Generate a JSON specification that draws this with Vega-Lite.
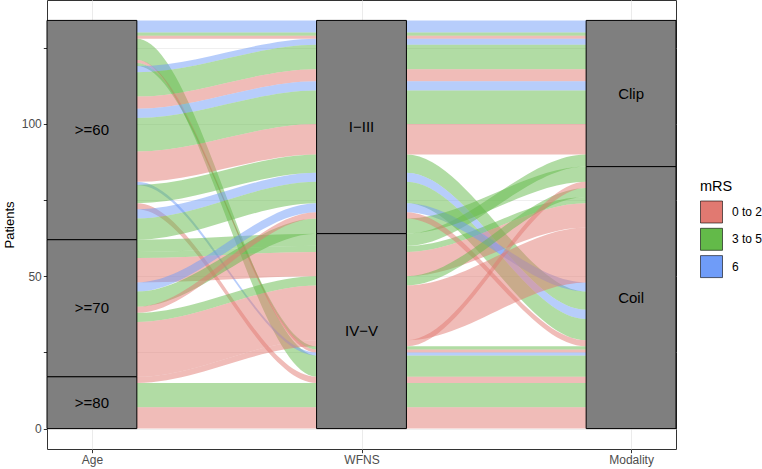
{
  "$schema": "https://vega.github.io/schema/vega-lite/v6.json",
  "width": 629,
  "height": 449,
  "autosize": {"type": "none"},
  "padding": {"left": 47, "top": 0, "right": 86, "bottom": 20},
  "background": "white",
  "config": {
    "font": "Liberation Sans",
    "view": {"stroke": "#333333", "strokeWidth": 1}
  },
  "data": {
    "values": [
      {"age": ">=60", "wfns": "I−III", "mod": "Clip", "mrs": "6", "n": 4, "rA": 1, "rW": 1, "rM": 1},
      {"age": ">=60", "wfns": "I−III", "mod": "Clip", "mrs": "3 to 5", "n": 1, "rA": 2, "rW": 2, "rM": 2},
      {"age": ">=60", "wfns": "I−III", "mod": "Clip", "mrs": "0 to 2", "n": 1, "rA": 3, "rW": 3, "rM": 3},
      {"age": ">=60", "wfns": "IV−V", "mod": "Coil", "mrs": "3 to 5", "n": 7, "rA": 4, "rW": 25, "rM": 25},
      {"age": ">=60", "wfns": "IV−V", "mod": "Coil", "mrs": "0 to 2", "n": 1, "rA": 5, "rW": 23, "rM": 23},
      {"age": ">=60", "wfns": "IV−V", "mod": "Coil", "mrs": "3 to 5", "n": 1, "rA": 6, "rW": 22, "rM": 22},
      {"age": ">=60", "wfns": "I−III", "mod": "Clip", "mrs": "6", "n": 2, "rA": 7, "rW": 4, "rM": 4},
      {"age": ">=60", "wfns": "I−III", "mod": "Clip", "mrs": "3 to 5", "n": 8, "rA": 8, "rW": 5, "rM": 5},
      {"age": ">=60", "wfns": "I−III", "mod": "Clip", "mrs": "0 to 2", "n": 4, "rA": 9, "rW": 6, "rM": 6},
      {"age": ">=60", "wfns": "I−III", "mod": "Clip", "mrs": "6", "n": 3, "rA": 10, "rW": 7, "rM": 7},
      {"age": ">=60", "wfns": "I−III", "mod": "Clip", "mrs": "3 to 5", "n": 11, "rA": 11, "rW": 8, "rM": 8},
      {"age": ">=60", "wfns": "I−III", "mod": "Clip", "mrs": "0 to 2", "n": 10, "rA": 12, "rW": 9, "rM": 9},
      {"age": ">=60", "wfns": "IV−V", "mod": "Coil", "mrs": "6", "n": 1, "rA": 13, "rW": 24, "rM": 24},
      {"age": ">=60", "wfns": "I−III", "mod": "Coil", "mrs": "3 to 5", "n": 6, "rA": 14, "rW": 10, "rM": 18},
      {"age": ">=60", "wfns": "IV−V", "mod": "Coil", "mrs": "0 to 2", "n": 2, "rA": 15, "rW": 26, "rM": 26},
      {"age": ">=60", "wfns": "I−III", "mod": "Coil", "mrs": "6", "n": 3, "rA": 16, "rW": 11, "rM": 19},
      {"age": ">=60", "wfns": "I−III", "mod": "Coil", "mrs": "3 to 5", "n": 7, "rA": 17, "rW": 12, "rM": 20},
      {"age": ">=70", "wfns": "IV−V", "mod": "Clip", "mrs": "3 to 5", "n": 4, "rA": 18, "rW": 16, "rM": 10},
      {"age": ">=70", "wfns": "IV−V", "mod": "Coil", "mrs": "3 to 5", "n": 2, "rA": 19, "rW": 17, "rM": 14},
      {"age": ">=70", "wfns": "IV−V", "mod": "Coil", "mrs": "0 to 2", "n": 8, "rA": 20, "rW": 18, "rM": 15},
      {"age": ">=70", "wfns": "I−III", "mod": "Coil", "mrs": "6", "n": 3, "rA": 21, "rW": 13, "rM": 17},
      {"age": ">=70", "wfns": "I−III", "mod": "Coil", "mrs": "3 to 5", "n": 5, "rA": 22, "rW": 15, "rM": 11},
      {"age": ">=70", "wfns": "I−III", "mod": "Coil", "mrs": "0 to 2", "n": 2, "rA": 23, "rW": 14, "rM": 21},
      {"age": ">=70", "wfns": "IV−V", "mod": "Coil", "mrs": "3 to 5", "n": 3, "rA": 24, "rW": 19, "rM": 13},
      {"age": ">=70", "wfns": "IV−V", "mod": "Coil", "mrs": "0 to 2", "n": 18, "rA": 25, "rW": 20, "rM": 16},
      {"age": ">=80", "wfns": "IV−V", "mod": "Coil", "mrs": "0 to 2", "n": 2, "rA": 26, "rW": 21, "rM": 12},
      {"age": ">=80", "wfns": "IV−V", "mod": "Coil", "mrs": "3 to 5", "n": 8, "rA": 27, "rW": 27, "rM": 27},
      {"age": ">=80", "wfns": "IV−V", "mod": "Coil", "mrs": "0 to 2", "n": 7, "rA": 28, "rW": 28, "rM": 28}
    ]
  },
  "layer": [
    {
      "transform": [
        {"stack": "n", "groupby": [], "sort": [{"field": "rA", "order": "descending"}], "as": ["a0", "a1"]},
        {"stack": "n", "groupby": [], "sort": [{"field": "rW", "order": "descending"}], "as": ["b0", "b1"]},
        {"stack": "n", "groupby": [], "sort": [{"field": "rM", "order": "descending"}], "as": ["c0", "c1"]},
        {"fold": ["a0", "b0", "c0"], "as": ["kb", "yb"]},
        {"fold": ["a1", "b1", "c1"], "as": ["kt", "yt"]},
        {"filter": "(datum.kb == 'a0' && datum.kt == 'a1') || (datum.kb == 'b0' && datum.kt == 'b1') || (datum.kb == 'c0' && datum.kt == 'c1')"},
        {"fold": ["kb", "kt"], "as": ["edge", "slot"]}
      ],
      "mark": {"type": "area", "interpolate": "monotone", "opacity": 0.5},
      "encoding": {
        "x": {
          "field": "slot", "type": "ordinal",
          "scale": {"type": "point", "padding": 0, "domain": ["a0", "Age", "a1", "g1", "g2", "g3", "b0", "WFNS", "b1", "g4", "g5", "g6", "c0", "Modality", "c1"]},
          "axis": {"values": ["Age", "WFNS", "Modality"], "title": null, "domain": false, "grid": true, "gridColor": "#EBEBEB", "gridWidth": 1.07, "tickColor": "#333333", "tickSize": 3.7, "tickWidth": 1, "labelFontSize": 12, "labelColor": "#4D4D4D", "labelPadding": 2, "labelAngle": 0}
        },
        "y": {
          "field": "yb", "type": "quantitative", "stack": null,
          "scale": {"domain": [-6.7, 140.7], "nice": false, "zero": false},
          "axis": {"values": [0, 25, 50, 75, 100, 125], "title": "Patients", "titleFontSize": 13, "titleFontWeight": "normal", "titleColor": "black", "titlePadding": 5, "domain": false, "grid": true, "gridColor": "#EBEBEB", "gridWidth": 0.8, "labelExpr": "datum.value % 50 === 0 ? datum.label : ''", "tickColor": "#333333", "tickSize": 3.7, "tickWidth": 1, "labelFontSize": 12, "labelColor": "#4D4D4D", "labelPadding": 2}
        },
        "y2": {"field": "yt"},
        "detail": {"field": "rA", "type": "nominal"},
        "color": {
          "field": "mrs", "type": "nominal",
          "scale": {"domain": ["0 to 2", "3 to 5", "6"], "range": ["#E17971", "#63BA49", "#6F9CF8"]},
          "legend": {"title": "mRS", "orient": "none", "legendX": 653, "legendY": 180, "symbolType": "square", "symbolSize": 484, "symbolStrokeColor": "black", "symbolStrokeWidth": 0.6, "symbolOpacity": 1, "titleFontSize": 14.5, "titleFontWeight": "normal", "titleColor": "black", "labelFontSize": 12, "labelColor": "black", "titlePadding": 6, "rowPadding": 2.3, "labelOffset": 9}
        }
      }
    },
    {
      "transform": [
        {"aggregate": [{"op": "sum", "field": "n", "as": "tot"}], "groupby": ["age"]},
        {"stack": "tot", "groupby": [], "sort": [{"field": "age", "order": "descending"}], "as": ["a0", "a1"]},
        {"fold": ["a0", "a1"], "as": ["slot", "v"]}
      ],
      "mark": {"type": "area", "fill": "#7F7F7F", "stroke": "black", "strokeWidth": 1},
      "encoding": {
        "x": {"field": "slot", "type": "ordinal", "scale": {"type": "point", "padding": 0, "domain": ["a0", "Age", "a1", "g1", "g2", "g3", "b0", "WFNS", "b1", "g4", "g5", "g6", "c0", "Modality", "c1"]}},
        "y": {"field": "a0", "type": "quantitative", "stack": null, "scale": {"domain": [-6.7, 140.7], "nice": false, "zero": false}},
        "y2": {"field": "a1"},
        "detail": {"field": "age", "type": "nominal"}
      }
    },
    {
      "transform": [
        {"aggregate": [{"op": "sum", "field": "n", "as": "tot"}], "groupby": ["wfns"]},
        {"stack": "tot", "groupby": [], "sort": [{"field": "wfns", "order": "ascending"}], "as": ["b0", "b1"]},
        {"fold": ["b0", "b1"], "as": ["slot", "v"]}
      ],
      "mark": {"type": "area", "fill": "#7F7F7F", "stroke": "black", "strokeWidth": 1},
      "encoding": {
        "x": {"field": "slot", "type": "ordinal", "scale": {"type": "point", "padding": 0, "domain": ["a0", "Age", "a1", "g1", "g2", "g3", "b0", "WFNS", "b1", "g4", "g5", "g6", "c0", "Modality", "c1"]}},
        "y": {"field": "b0", "type": "quantitative", "stack": null, "scale": {"domain": [-6.7, 140.7], "nice": false, "zero": false}},
        "y2": {"field": "b1"},
        "detail": {"field": "wfns", "type": "nominal"}
      }
    },
    {
      "transform": [
        {"aggregate": [{"op": "sum", "field": "n", "as": "tot"}], "groupby": ["mod"]},
        {"stack": "tot", "groupby": [], "sort": [{"field": "mod", "order": "descending"}], "as": ["c0", "c1"]},
        {"fold": ["c0", "c1"], "as": ["slot", "v"]}
      ],
      "mark": {"type": "area", "fill": "#7F7F7F", "stroke": "black", "strokeWidth": 1},
      "encoding": {
        "x": {"field": "slot", "type": "ordinal", "scale": {"type": "point", "padding": 0, "domain": ["a0", "Age", "a1", "g1", "g2", "g3", "b0", "WFNS", "b1", "g4", "g5", "g6", "c0", "Modality", "c1"]}},
        "y": {"field": "c0", "type": "quantitative", "stack": null, "scale": {"domain": [-6.7, 140.7], "nice": false, "zero": false}},
        "y2": {"field": "c1"},
        "detail": {"field": "mod", "type": "nominal"}
      }
    },
    {
      "transform": [
        {"aggregate": [{"op": "sum", "field": "n", "as": "tot"}], "groupby": ["age"]},
        {"stack": "tot", "groupby": [], "sort": [{"field": "age", "order": "descending"}], "as": ["a0", "a1"]},
        {"fold": ["a0", "a1"], "as": ["k", "v"]},
        {"aggregate": [{"op": "mean", "field": "v", "as": "Age"}], "groupby": ["age"]},
        {"fold": ["Age"], "as": ["slot", "mid"]}
      ],
      "mark": {"type": "text", "fontSize": 15, "color": "black"},
      "encoding": {
        "x": {"field": "slot", "type": "ordinal", "scale": {"type": "point", "padding": 0, "domain": ["a0", "Age", "a1", "g1", "g2", "g3", "b0", "WFNS", "b1", "g4", "g5", "g6", "c0", "Modality", "c1"]}},
        "y": {"field": "mid", "type": "quantitative", "scale": {"domain": [-6.7, 140.7], "nice": false, "zero": false}},
        "text": {"field": "age"}
      }
    },
    {
      "transform": [
        {"aggregate": [{"op": "sum", "field": "n", "as": "tot"}], "groupby": ["wfns"]},
        {"stack": "tot", "groupby": [], "sort": [{"field": "wfns", "order": "ascending"}], "as": ["b0", "b1"]},
        {"fold": ["b0", "b1"], "as": ["k", "v"]},
        {"aggregate": [{"op": "mean", "field": "v", "as": "WFNS"}], "groupby": ["wfns"]},
        {"fold": ["WFNS"], "as": ["slot", "mid"]}
      ],
      "mark": {"type": "text", "fontSize": 15, "color": "black"},
      "encoding": {
        "x": {"field": "slot", "type": "ordinal", "scale": {"type": "point", "padding": 0, "domain": ["a0", "Age", "a1", "g1", "g2", "g3", "b0", "WFNS", "b1", "g4", "g5", "g6", "c0", "Modality", "c1"]}},
        "y": {"field": "mid", "type": "quantitative", "scale": {"domain": [-6.7, 140.7], "nice": false, "zero": false}},
        "text": {"field": "wfns"}
      }
    },
    {
      "transform": [
        {"aggregate": [{"op": "sum", "field": "n", "as": "tot"}], "groupby": ["mod"]},
        {"stack": "tot", "groupby": [], "sort": [{"field": "mod", "order": "descending"}], "as": ["c0", "c1"]},
        {"fold": ["c0", "c1"], "as": ["k", "v"]},
        {"aggregate": [{"op": "mean", "field": "v", "as": "Modality"}], "groupby": ["mod"]},
        {"fold": ["Modality"], "as": ["slot", "mid"]}
      ],
      "mark": {"type": "text", "fontSize": 15, "color": "black"},
      "encoding": {
        "x": {"field": "slot", "type": "ordinal", "scale": {"type": "point", "padding": 0, "domain": ["a0", "Age", "a1", "g1", "g2", "g3", "b0", "WFNS", "b1", "g4", "g5", "g6", "c0", "Modality", "c1"]}},
        "y": {"field": "mid", "type": "quantitative", "scale": {"domain": [-6.7, 140.7], "nice": false, "zero": false}},
        "text": {"field": "mod"}
      }
    }
  ]
}
